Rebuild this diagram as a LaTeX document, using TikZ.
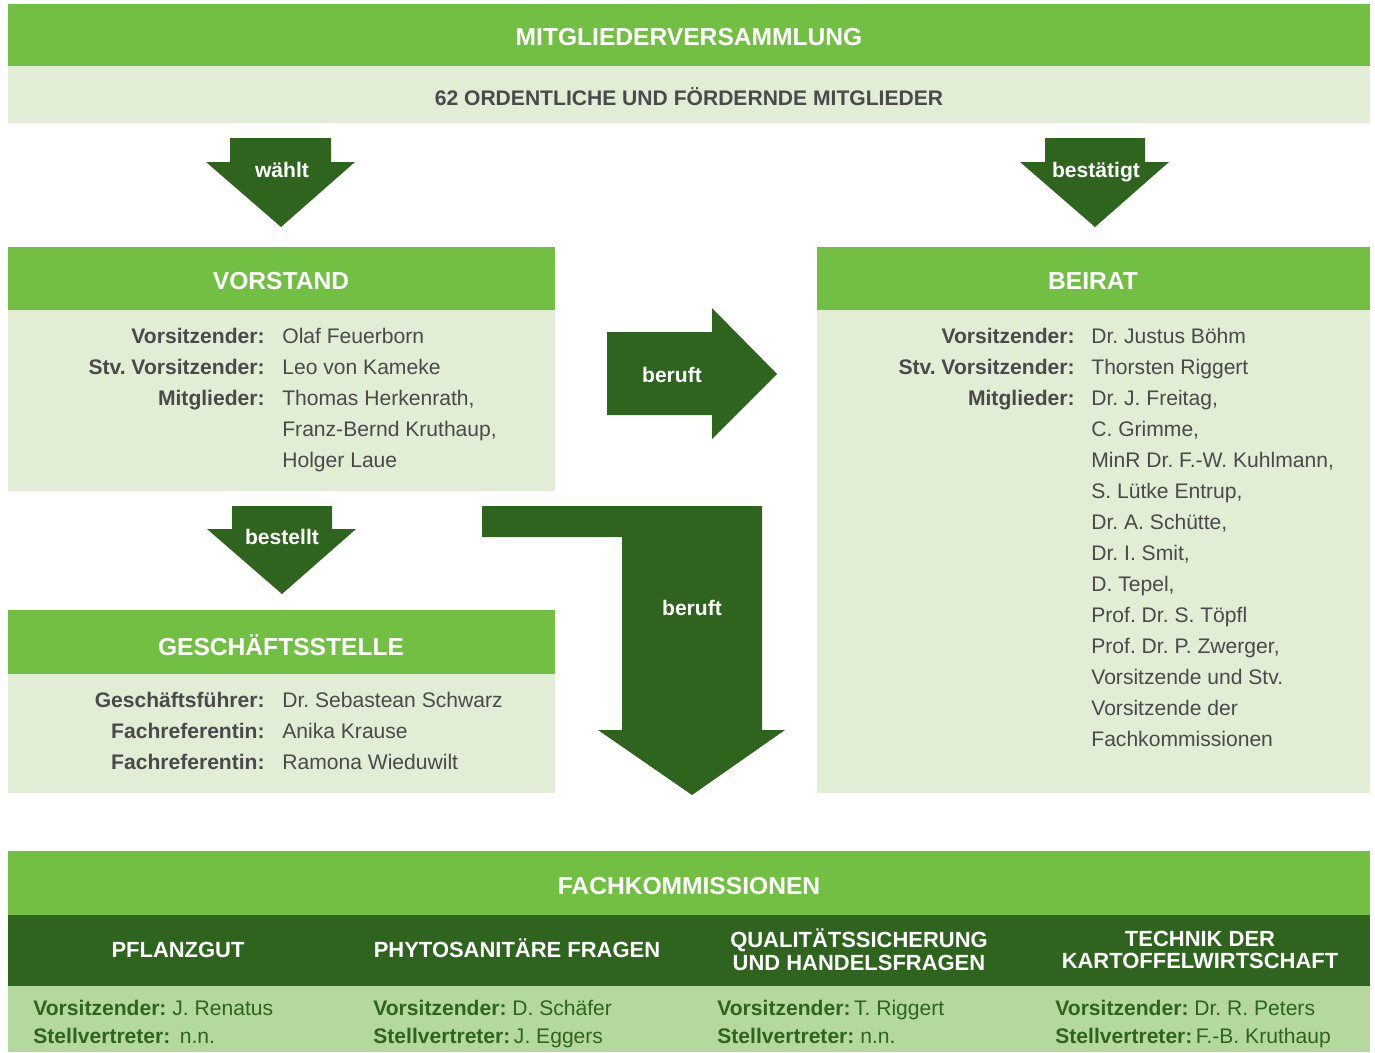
\documentclass[tikz,border=0pt]{standalone}
\usepackage{fontspec}
\setmainfont{Liberation Sans}
\frenchspacing
\definecolor{grn}{HTML}{72BF44}
\definecolor{dgrn}{HTML}{2F641E}
\definecolor{lgrn}{HTML}{E1EED5}
\definecolor{mgrn}{HTML}{B5D99C}
\definecolor{txtgray}{HTML}{4A4A4A}
\tikzset{
  hd/.style={font=\fontsize{14}{16}\selectfont\bfseries, text=white},
  subhd/.style={font=\fontsize{12}{14}\selectfont\bfseries, text=txtgray},
  colhd/.style={font=\fontsize{12.5}{13}\selectfont\bfseries, text=white, align=center},
  lbl/.style={anchor=base east, font=\fontsize{12}{14}\selectfont\bfseries, text=txtgray, inner sep=0pt},
  val/.style={anchor=base west, font=\fontsize{12}{14}\selectfont, text=txtgray, inner sep=0pt},
  fk/.style={anchor=base west, font=\fontsize{12}{14}\selectfont, text=dgrn, inner sep=0pt},
  arrtxt/.style={anchor=base, font=\fontsize{12}{14}\selectfont\bfseries, text=white, inner sep=0pt},
  blockarrow/.style={fill=dgrn}
}
\begin{document}
\begin{tikzpicture}[x=0.02cm,y=-0.02cm]
\useasboundingbox (0,0) rectangle (1375,1052);
% Mitgliederversammlung
\fill[grn] (8,4) rectangle (1370,66);
\node[hd] (mv) at (689,37) {MITGLIEDERVERSAMMLUNG};
\fill[lgrn] (8,66) rectangle (1370,123);
\node[subhd] (mvsub) at (689,97) {62 ORDENTLICHE UND FÖRDERNDE MITGLIEDER};
% arrows from the top
\fill[blockarrow] (230,138) -- (331,138) -- (331,162) -- (355,162) -- (281,227) -- (206,162) -- (230,162) -- cycle;
\node[arrtxt] (waehlt) at (282,177) {wählt};
\fill[blockarrow] (1045,138) -- (1145,138) -- (1145,162) -- (1169,162) -- (1095,227) -- (1020,162) -- (1045,162) -- cycle;
\node[arrtxt] (bestaetigt) at (1096,177) {bestätigt};
% Vorstand
\fill[grn] (8,247) rectangle (555,310);
\node[hd] (vorstand) at (281,281) {VORSTAND};
\fill[lgrn] (8,310) rectangle (555,491);
\foreach \l [count=\i] in {Vorsitzender:, Stv. Vorsitzender:, Mitglieder:}
  \node[lbl] (vl\i) at (265,{343+31*(\i-1)}) {\l};
\foreach \v [count=\i] in {Olaf Feuerborn, Leo von Kameke, {Thomas Herkenrath,}, {Franz-Bernd Kruthaup,}, Holger Laue}
  \node[val] (vv\i) at (282,{343+31*(\i-1)}) {\v};
% beruft (Beirat)
\fill[blockarrow] (607,332) -- (712,332) -- (712,308) -- (777,374) -- (712,439) -- (712,415) -- (607,415) -- cycle;
\node[arrtxt] (beruft1) at (672,382) {beruft};
% Beirat
\fill[grn] (817,247) rectangle (1370,310);
\node[hd] (beirat) at (1093,281) {BEIRAT};
\fill[lgrn] (817,310) rectangle (1370,793);
\foreach \l [count=\i] in {Vorsitzender:, Stv. Vorsitzender:, Mitglieder:}
  \node[lbl] (bl\i) at (1075,{343+31*(\i-1)}) {\l};
\foreach \v [count=\i] in {Dr. Justus Böhm, Thorsten Riggert, {Dr. J. Freitag,}, {C. Grimme,},
    {MinR Dr. F.-W. Kuhlmann,}, {S. Lütke Entrup,}, {Dr. A. Schütte,}, {Dr. I. Smit,},
    {D. Tepel,}, Prof. Dr. S. Töpfl, {Prof. Dr. P. Zwerger,}, Vorsitzende und Stv.,
    Vorsitzende der, Fachkommissionen}
  \node[val] (bv\i) at (1091,{343+31*(\i-1)}) {\v};
% bestellt
\fill[blockarrow] (232,506) -- (332,506) -- (332,529) -- (356,529) -- (282,594) -- (207,529) -- (232,529) -- cycle;
\node[arrtxt] (bestellt) at (282,544) {bestellt};
% Geschaeftsstelle
\fill[grn] (8,610) rectangle (555,674);
\node[hd] (gs) at (281,645) {GESCHÄFTSSTELLE};
\fill[lgrn] (8,674) rectangle (555,793);
\foreach \l [count=\i] in {Geschäftsführer:, Fachreferentin:, Fachreferentin:}
  \node[lbl] (gl\i) at (265,{707+31*(\i-1)}) {\l};
\foreach \v [count=\i] in {Dr. Sebastean Schwarz, Anika Krause, Ramona Wieduwilt}
  \node[val] (gv\i) at (282,{707+31*(\i-1)}) {\v};
% beruft (Fachkommissionen)
\fill[blockarrow] (482,506) -- (762,506) -- (762,730) -- (785,730) -- (692,795) -- (598,730) -- (622,730) -- (622,537) -- (482,537) -- cycle;
\node[arrtxt] (beruft2) at (692,615) {beruft};
% Fachkommissionen
\fill[grn] (8,851) rectangle (1370,915);
\node[hd] (fkhd) at (689,886) {FACHKOMMISSIONEN};
\fill[dgrn] (8,915) rectangle (1370,986);
\fill[mgrn] (8,986) rectangle (1370,1052);
\node[colhd, anchor=base] (fk1) at (178,957) {PFLANZGUT};
\node[colhd, anchor=base] (fk2) at (517,957) {PHYTOSANITÄRE FRAGEN};
\node[colhd] (fk3) at (859,950) {QUALITÄTSSICHERUNG\\UND HANDELSFRAGEN};
\node[colhd] (fk4) at (1200,950) {TECHNIK DER\\KARTOFFELWIRTSCHAFT};
\node[fk] (fkv1) at (33,1015) {\textbf{Vorsitzender:} J. Renatus};
\node[fk] (fks1) at (33,1043) {\textbf{Stellvertreter:} \,n.n.};
\node[fk] (fkv2) at (373,1015) {\textbf{Vorsitzender:} D. Schäfer};
\node[fk] (fks2) at (373,1043) {\textbf{Stellvertreter:}\,J. Eggers};
\node[fk] (fkv3) at (717,1015) {\textbf{Vorsitzender:}\,T. Riggert};
\node[fk] (fks3) at (717,1043) {\textbf{Stellvertreter:} n.n.};
\node[fk] (fkv4) at (1055,1015) {\textbf{Vorsitzender:} Dr. R. Peters};
\node[fk] (fks4) at (1055,1043) {\textbf{Stellvertreter:}\,F.-B. Kruthaup};
\end{tikzpicture}
\end{document}
